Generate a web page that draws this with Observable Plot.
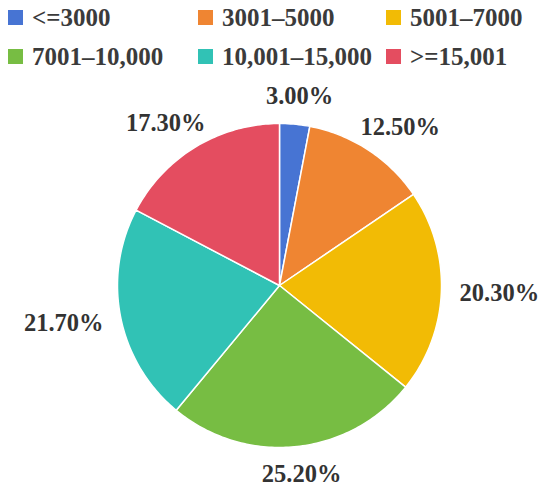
<!DOCTYPE html>
<html><head><meta charset="utf-8">
<script src="https://cdn.jsdelivr.net/npm/d3@7"></script>
<script src="https://cdn.jsdelivr.net/npm/@observablehq/plot@0.6"></script>
<style>
body{margin:0;background:#fff;}
#legend{height:78px;position:relative;}
#legend .grid{position:absolute;top:-2px;left:8px;display:grid;grid-template-columns:190px 188px 150px;grid-template-rows:39px 39px;align-items:center;}
.item{display:flex;align-items:center;font-family:'Liberation Serif';font-weight:bold;font-size:25px;color:#3b3b3b;white-space:nowrap;}
.sw{width:15px;height:15px;margin-right:9px;flex:none;}
#chart svg{display:block;}
</style></head><body>
<div id="legend"><div class="grid"></div></div>
<div id="chart"></div>
<script>
const categories = ["<=3000", "3001–5000", "5001–7000", "7001–10,000", "10,001–15,000", ">=15,001"];
const shares = [3.0, 12.5, 20.3, 25.2, 21.7, 17.3];
const labels = ["3.00%", "12.50%", "20.30%", "25.20%", "21.70%", "17.30%"];
const colors = ["#4774d3", "#ef8532", "#f2bb05", "#77bd43", "#31c2b5", "#e44d60"];

// legend
const grid = document.querySelector("#legend .grid");
categories.forEach((c, i) => {
  const it = document.createElement("div");
  it.className = "item";
  const sw = document.createElement("span");
  sw.className = "sw";
  sw.style.background = colors[i];
  it.appendChild(sw);
  it.appendChild(document.createTextNode(c));
  grid.appendChild(it);
});

// layout (pixels)
const W = 550, H = 413, cx = 279, cy = 207, R = 162;
const labelGap = 19, halfH = 9, charHalf = 6.5;

const arcs = d3.pie().sort(null).value(d => d)(shares);
const points = [];
const slices = arcs.map((a, i) => {
  const cat = categories[i];
  const steps = Math.max(2, Math.ceil((a.endAngle - a.startAngle) / (Math.PI / 180)));
  points.push({cat, x: 0, y: 0});
  for (let k = 0; k <= steps; k++) {
    const t = a.startAngle + (a.endAngle - a.startAngle) * k / steps;
    points.push({cat, x: Math.sin(t), y: Math.cos(t)});
  }
  points.push({cat, x: 0, y: 0});
  const m = (a.startAngle + a.endAngle) / 2;
  const hw = charHalf * labels[i].length;
  return {
    cat,
    label: labels[i],
    x: (R + labelGap + hw) * Math.sin(m) / R,
    y: (R + labelGap + halfH) * Math.cos(m) / R
  };
});

const chart = Plot.plot({
  width: W,
  height: H,
  margin: 0,
  x: {domain: [-cx / R, (W - cx) / R], axis: null},
  y: {domain: [-(H - cy) / R, cy / R], axis: null},
  color: {domain: categories, range: colors},
  style: {background: "#fff", fontFamily: "Liberation Serif"},
  marks: [
    Plot.line(points, {x: "x", y: "y", z: "cat", fill: "cat", stroke: "#fff", strokeWidth: 1.5, strokeLinejoin: "round", curve: "linear"}),
    Plot.text(slices, {x: "x", y: "y", text: "label", fontSize: 24.5, fontWeight: "bold", fontFamily: "Liberation Serif", fill: "#333", textAnchor: "middle", lineAnchor: "middle"})
  ]
});
document.getElementById("chart").appendChild(chart);
</script>
</body></html>
